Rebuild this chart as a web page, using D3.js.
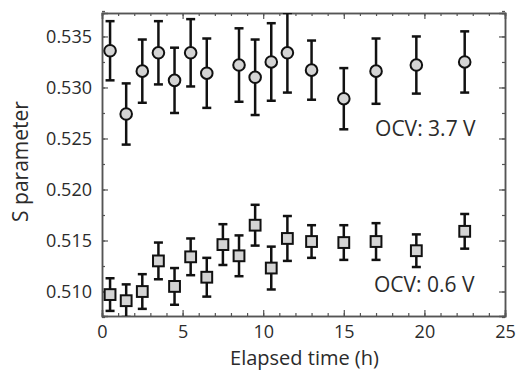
<!DOCTYPE html>
<html>
<head>
<meta charset="utf-8">
<script src="https://cdn.jsdelivr.net/npm/d3@7"></script>
<style>
  body { margin: 0; background: #fff; }
  text { font-family: "Open Sans", "Noto Sans", sans-serif; fill: #2b2b2b; }
</style>
</head>
<body>
<div id="chart"></div>
<script>
// elapsed time (h) and S parameter, OCV 3.7 V (circles)
const highTime = [0.5, 1.5, 2.5, 3.5, 4.5, 5.5, 6.5, 8.5, 9.5, 10.5, 11.5, 13, 15, 17, 19.5, 22.5];
const highS    = [0.5336, 0.5274, 0.5316, 0.5334, 0.5307, 0.5334, 0.5314, 0.5322, 0.5310, 0.5325, 0.5334, 0.5317, 0.5289, 0.5316, 0.5322, 0.5325];
const highErr  = [0.0029, 0.0030, 0.0031, 0.0031, 0.0032, 0.0033, 0.0034, 0.0036, 0.0037, 0.0038, 0.0039, 0.0029, 0.0030, 0.0032, 0.0028, 0.0030];

// OCV 0.6 V (squares)
const lowTime = [0.5, 1.5, 2.5, 3.5, 4.5, 5.5, 6.5, 7.5, 8.5, 9.5, 10.5, 11.5, 13, 15, 17, 19.5, 22.5];
const lowS    = [0.5097, 0.5091, 0.5100, 0.5130, 0.5105, 0.5134, 0.5114, 0.5146, 0.5135, 0.5165, 0.5123, 0.5152, 0.5149, 0.5148, 0.5149, 0.5140, 0.5159];
const lowErr  = [0.0016, 0.0016, 0.0017, 0.0018, 0.0018, 0.0018, 0.0019, 0.0020, 0.0020, 0.0020, 0.0021, 0.0022, 0.0016, 0.0017, 0.0018, 0.0016, 0.0017];

const xTicks = [0, 5, 10, 15, 20, 25];
const yTicks = [0.510, 0.515, 0.520, 0.525, 0.530, 0.535];

const W = 517, H = 370;
const margin = {top: 13, right: 12, bottom: 54, left: 102};
const width = W - margin.left - margin.right,
      height = H - margin.top - margin.bottom;

const svg = d3.select("#chart").append("svg")
  .attr("width", W).attr("height", H);

const g = svg.append("g")
  .attr("transform", `translate(${margin.left},${margin.top})`);

const x = d3.scaleLinear().domain([0, 25]).range([0, width]);
const y = d3.scaleLinear().domain([0.5076, 0.5373]).range([height, 0]);

// clip so error bars stop at the frame
g.append("clipPath").attr("id", "clip")
  .append("rect").attr("width", width).attr("height", height);

const axisColor = "#555";
const minorX = d3.range(0, 26, 1);
const minorY = d3.range(0.5075, 0.5376, 0.0025);

// axes: ticks pointing inward on all four sides
function styleAxis(sel) {
  sel.select(".domain").attr("stroke", axisColor).attr("stroke-width", 1.5);
  sel.selectAll(".tick line").attr("stroke", axisColor).attr("stroke-width", 1.2);
}

g.append("g").attr("transform", `translate(0,${height})`)
  .call(d3.axisBottom(x).tickValues(minorX).tickSize(-3).tickFormat(""))
  .call(styleAxis);
g.append("g").attr("transform", `translate(0,${height})`)
  .call(d3.axisBottom(x).tickValues(xTicks).tickSize(-6).tickPadding(9).tickFormat(d3.format("d")))
  .call(styleAxis)
  .selectAll("text").style("font-size", "18px").attr("fill", "#2b2b2b");

g.append("g")
  .call(d3.axisTop(x).tickValues(minorX).tickSize(-3).tickFormat(""))
  .call(styleAxis);
g.append("g")
  .call(d3.axisTop(x).tickValues(xTicks).tickSize(-6).tickFormat(""))
  .call(styleAxis);

g.append("g")
  .call(d3.axisLeft(y).tickValues(minorY).tickSize(-3).tickFormat(""))
  .call(styleAxis);
g.append("g")
  .call(d3.axisLeft(y).tickValues(yTicks).tickSize(-6).tickPadding(10).tickFormat(d3.format(".3f")))
  .call(styleAxis)
  .selectAll("text").style("font-size", "18px").attr("fill", "#2b2b2b");

g.append("g").attr("transform", `translate(${width},0)`)
  .call(d3.axisRight(y).tickValues(minorY).tickSize(-3).tickFormat(""))
  .call(styleAxis);
g.append("g").attr("transform", `translate(${width},0)`)
  .call(d3.axisRight(y).tickValues(yTicks).tickSize(-6).tickFormat(""))
  .call(styleAxis);

// error bars + markers
const plot = g.append("g").attr("clip-path", "url(#clip)");
const cap = 4.5;

function drawSeries(times, vals, errs, shape) {
  const data = times.map((t, i) => ({t, v: vals[i], e: errs[i]}));
  const eb = plot.append("g").selectAll("g").data(data).enter().append("g")
    .attr("stroke", "#111").attr("stroke-width", 2.5).attr("fill", "none");
  eb.append("line")
    .attr("x1", d => x(d.t)).attr("x2", d => x(d.t))
    .attr("y1", d => y(d.v - d.e)).attr("y2", d => y(d.v + d.e));
  eb.append("line")
    .attr("x1", d => x(d.t) - cap).attr("x2", d => x(d.t) + cap)
    .attr("y1", d => y(d.v + d.e)).attr("y2", d => y(d.v + d.e));
  eb.append("line")
    .attr("x1", d => x(d.t) - cap).attr("x2", d => x(d.t) + cap)
    .attr("y1", d => y(d.v - d.e)).attr("y2", d => y(d.v - d.e));

  const m = plot.append("g").selectAll(".m").data(data).enter();
  if (shape === "circle") {
    m.append("circle")
      .attr("cx", d => x(d.t)).attr("cy", d => y(d.v)).attr("r", 5.8)
      .attr("fill", "#d4d4d4").attr("stroke", "#111").attr("stroke-width", 2);
  } else {
    m.append("rect")
      .attr("x", d => x(d.t) - 5.4).attr("y", d => y(d.v) - 5.4)
      .attr("width", 10.8).attr("height", 10.8)
      .attr("fill", "#d4d4d4").attr("stroke", "#111").attr("stroke-width", 2);
  }
}

drawSeries(highTime, highS, highErr, "circle");
drawSeries(lowTime, lowS, lowErr, "square");

// annotations
g.append("text").attr("x", x(16.94)).attr("y", y(0.52524))
  .style("font-size", "21px").text("OCV: 3.7 V");
g.append("text").attr("x", x(16.87)).attr("y", y(0.50995))
  .style("font-size", "21px").text("OCV: 0.6 V");

// axis labels
svg.append("text")
  .attr("x", margin.left + width / 2 + 1).attr("y", H - 5)
  .attr("text-anchor", "middle").style("font-size", "20px")
  .text("Elapsed time (h)");
svg.append("text")
  .attr("transform", `translate(27.5,${margin.top + height / 2 - 3}) rotate(-90)`)
  .attr("text-anchor", "middle").style("font-size", "21px")
  .text("S parameter");
</script>
</body>
</html>
